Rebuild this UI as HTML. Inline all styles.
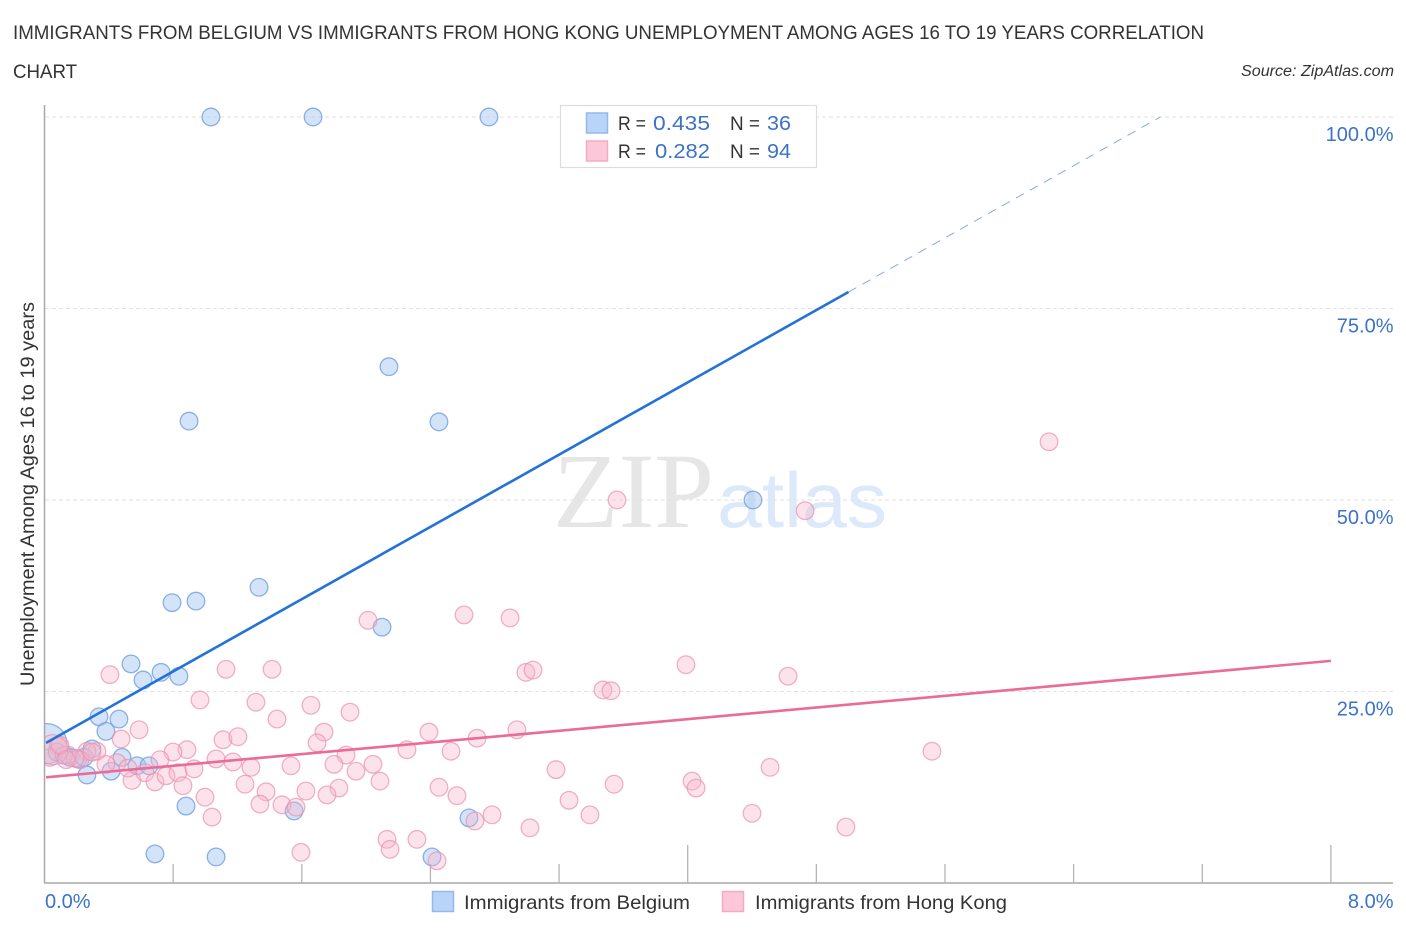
<!DOCTYPE html>
<html lang="en">
<head>
<meta charset="utf-8">
<title>Unemployment Among Ages 16 to 19 Years Correlation Chart</title>
<style>
html,body{margin:0;padding:0;background:#fff;width:1406px;height:930px;overflow:hidden}
svg{display:block}
text{font-family:"Liberation Sans",sans-serif}
</style>
</head>
<body>
<svg id="chart" xmlns="http://www.w3.org/2000/svg" width="1406" height="930" viewBox="0 0 1406 930">
  <text x="13" y="39" font-size="19.5" fill="#333" textLength="1191" lengthAdjust="spacingAndGlyphs">IMMIGRANTS FROM BELGIUM VS IMMIGRANTS FROM HONG KONG UNEMPLOYMENT AMONG AGES 16 TO 19 YEARS CORRELATION</text>
  <text x="13" y="78" font-size="19.5" fill="#333" textLength="64" lengthAdjust="spacingAndGlyphs">CHART</text>
  <text x="1241" y="76" font-size="15.5" font-style="italic" fill="#333" textLength="153" lengthAdjust="spacingAndGlyphs">Source: ZipAtlas.com</text>
  <text x="553" y="527" font-size="107" fill="#e6e6e6" style="font-family:'Liberation Serif',serif" textLength="161" lengthAdjust="spacingAndGlyphs">ZIP</text>
  <text x="717" y="527" font-size="78" fill="#dce9fb" textLength="170" lengthAdjust="spacingAndGlyphs">atlas</text>
  <g id="grid"></g>
  <g id="points"></g>
  <rect x="0" y="100" width="44.5" height="783" fill="#fff"/>
  <g id="trends"></g>
  <g id="axes"></g>
  <text transform="translate(34,686) rotate(-90)" x="0" y="0" font-size="19" fill="#333" textLength="384" lengthAdjust="spacingAndGlyphs">Unemployment Among Ages 16 to 19 years</text>
  <g>
    <rect x="560.5" y="105.5" width="256" height="62" fill="#fff" stroke="#ddd" stroke-width="1.2"/>
    <rect x="586.5" y="113" width="21" height="20" fill="#b9d4f9" stroke="#93b9ec" stroke-width="1.5"/>
    <rect x="586.5" y="141" width="21" height="20" fill="#fbc7d9" stroke="#f3abc3" stroke-width="1.5"/>
    <text x="618" y="130" font-size="19" fill="#333" textLength="28" lengthAdjust="spacingAndGlyphs">R =</text>
    <text x="653" y="130" font-size="20.5" fill="#3c72c8" textLength="57" lengthAdjust="spacingAndGlyphs">0.435</text>
    <text x="730" y="130" font-size="19" fill="#333" textLength="30" lengthAdjust="spacingAndGlyphs">N =</text>
    <text x="767" y="130" font-size="20.5" fill="#3c72c8" textLength="24" lengthAdjust="spacingAndGlyphs">36</text>
    <text x="618" y="158" font-size="19" fill="#333" textLength="28" lengthAdjust="spacingAndGlyphs">R =</text>
    <text x="655" y="158" font-size="20.5" fill="#3c72c8" textLength="55" lengthAdjust="spacingAndGlyphs">0.282</text>
    <text x="730" y="158" font-size="19" fill="#333" textLength="30" lengthAdjust="spacingAndGlyphs">N =</text>
    <text x="767" y="158" font-size="20.5" fill="#3c72c8" textLength="24" lengthAdjust="spacingAndGlyphs">94</text>
  </g>
  <g>
    <rect x="432.5" y="891.5" width="21" height="20" fill="#b9d4f9" stroke="#93b9ec" stroke-width="1.5"/>
    <text x="464" y="909" font-size="19.5" fill="#333" textLength="226" lengthAdjust="spacingAndGlyphs">Immigrants from Belgium</text>
    <rect x="722.5" y="891.5" width="21" height="20" fill="#fbc7d9" stroke="#f3abc3" stroke-width="1.5"/>
    <text x="755" y="909" font-size="19.5" fill="#333" textLength="252" lengthAdjust="spacingAndGlyphs">Immigrants from Hong Kong</text>
  </g>
</svg>
<script>
const xTickValues = [0.8, 1.6, 2.4, 3.2, 4, 4.8, 5.6, 6.4, 7.2, 8];
const yTickValues = [25, 50, 75, 100];
const yTickLabels = ["25.0%", "50.0%", "75.0%", "100.0%"];
const xEndLabels = ["0.0%", "8.0%"];

const belgiumX = [1.035,1.67,2.764,2.142,0.899,2.453,4.406,1.334,0.942,0.793,2.099,0.538,0.725,0.613,0.836,0.339,0.463,0.382,0.015,0.078,0.159,0.208,0.295,0.482,0.414,0.264,0.575,0.65,0.88,1.552,2.64,0.687,1.067,2.41,0.121,0.246];
const belgiumY = [100,100,100,67.4,60.3,60.2,50,38.6,36.8,36.6,33.4,28.6,27.5,26.5,27,21.7,21.4,19.8,18.2,17.1,16.4,16.2,17.5,16.4,14.6,14.1,15.3,15.3,10.05,9.4,8.5,3.8,3.4,3.4,16.7,16.4];
const belgiumWeight = [1,1,1,1,1,1,1,1,1,1,1,1,1,1,1,1,1,1,5,1,1,1,1,1,1,1,1,1,1,1,1,1,1,1,1,1];

const hongKongX = [6.247,3.56,4.73,2.609,2.895,2.012,0.407,1.129,1.415,2.994,3.038,3.989,4.624,3.473,3.523,0.967,1.315,1.657,1.9,1.446,0.588,0.476,1.11,1.203,1.738,1.695,2.391,2.938,2.69,2.254,2.528,5.519,0.886,0.799,1.875,0.718,1.067,1.172,1.284,1.533,1.8,2.043,1.937,4.512,3.181,0.544,0.625,0.687,0.756,0.83,0.93,0.861,1.247,1.378,1.34,1.626,1.831,1.757,2.086,2.453,2.565,1.477,1.564,0.998,1.042,2.783,3.262,3.392,3.542,4.027,4.052,4.4,4.984,3.019,2.677,2.13,2.149,2.316,1.595,2.441,0.326,0.264,0.221,0.146,0.084,0.034,0.053,0.19,0.096,0.451,0.382,0.519,0.295,0.134];
const hongKongY = [57.6,50,48.6,35,34.6,34.3,27.2,27.9,27.9,27.5,27.8,28.5,27,25.2,25.1,23.9,23.6,23.2,22.3,21.4,20,18.8,18.7,19.1,19.7,18.3,19.7,20,18.9,17.4,17.2,17.2,17.4,17.1,16.7,16.1,16.2,15.8,15.1,15.3,15.5,15.5,14.6,15.1,14.8,13.4,14.4,13.2,14,14.4,14.9,12.7,12.9,11.9,10.3,12,12.4,11.5,13.3,12.5,11.4,10.2,9.9,11.2,8.6,8.9,10.8,8.9,12.9,13.3,12.4,9.1,7.3,7.2,8.1,5.7,4.4,5.7,4,2.9,17.2,17.2,16.1,16.7,17.8,16.4,17.4,16.3,18,15.7,15.5,15,17.1,16.1];
const hongKongWeight = [1,1,1,1,1,1,1,1,1,1,1,1,1,1,1,1,1,1,1,1,1,1,1,1,1,1,1,1,1,1,1,1,1,1,1,1,1,1,1,1,1,1,1,1,1,1,1,1,1,1,1,1,1,1,1,1,1,1,1,1,1,1,1,1,1,1,1,1,1,1,1,1,1,1,1,1,1,1,1,1,1,1,1,1,1,1,3,1,1,1,1,1,1,1];

const belgiumTrendX = [0.01, 5];
const belgiumTrendY = [18.3, 77.15];
const belgiumForecastX = [5, 6.94];
const belgiumForecastY = [77.15, 100];
const hongKongTrendX = [0.01, 8];
const hongKongTrendY = [13.8, 29];

const NS = "http://www.w3.org/2000/svg";
const xScale = v => 44.5 + v * 160.8;
const yScale = v => 883 - v * 7.66;
const radiusFor = w => (w >= 5 ? 20 : w >= 3 ? 15 : 8.8);

function make(tag, attrs, parent) {
  const el = document.createElementNS(NS, tag);
  for (const k in attrs) el.setAttribute(k, attrs[k]);
  parent.appendChild(el);
  return el;
}

const grid = document.getElementById("grid");
const pointsLayer = document.getElementById("points");
const trends = document.getElementById("trends");
const axes = document.getElementById("axes");

yTickValues.forEach((v, i) => {
  const line = make("line", {x1: 45, x2: 1393, y1: yScale(v), y2: yScale(v), stroke: "#e2e2e2", "stroke-width": 1, "stroke-dasharray": "4 3"}, grid);
  
  
  const label = make("text", {x: 1393.5, y: yScale(v) + 24, "text-anchor": "end", "font-size": 20, fill: "#3c72c8"}, axes);
  
  
  label.textContent = yTickLabels[i];
});

belgiumX.forEach((x, i) => {
  const c = make("circle", {cx: xScale(x), cy: yScale(belgiumY[i]), r: radiusFor(belgiumWeight[i]), fill: "#a9c9f2", "fill-opacity": 0.5, stroke: "#6f9fe0", "stroke-opacity": 0.8, "stroke-width": 1.3}, pointsLayer);
  
  
});

hongKongX.forEach((x, i) => {
  const c = make("circle", {cx: xScale(x), cy: yScale(hongKongY[i]), r: radiusFor(hongKongWeight[i]), fill: "#f8b6cb", "fill-opacity": 0.38, stroke: "#ea93b0", "stroke-opacity": 0.72, "stroke-width": 1.3}, pointsLayer);
  
  
});

function polyPoints(xs, ys) {
  return xs.map((x, i) => xScale(x) + "," + yScale(ys[i])).join(" ");
}

const belgiumTrend = make("polyline", {points: polyPoints(belgiumTrendX, belgiumTrendY), fill: "none", stroke: "#2272d9", "stroke-width": 2.6}, trends);



const belgiumForecast = make("polyline", {points: polyPoints(belgiumForecastX, belgiumForecastY), fill: "none", stroke: "#8aa8e0", "stroke-width": 1, "stroke-dasharray": "9 7"}, trends);



const hongKongTrend = make("polyline", {points: polyPoints(hongKongTrendX, hongKongTrendY), fill: "none", stroke: "#ea6a98", "stroke-width": 2.6}, trends);



const yAxisLine = make("line", {x1: 44.5, x2: 44.5, y1: 105, y2: 883, stroke: "#a8a8a8", "stroke-width": 1.5}, axes);



const xAxisLine = make("line", {x1: 44, x2: 1393, y1: 883, y2: 883, stroke: "#b4b4b4", "stroke-width": 1.8}, axes);



xTickValues.forEach(v => {
  const tall = v === 4 || v === 8;
  const tick = make("line", {x1: xScale(v), x2: xScale(v), y1: tall ? 845 : 864, y2: 883, stroke: "#b4b4b4", "stroke-width": 1.3}, axes);
  
  
});

const xStart = make("text", {x: 45, y: 908, "font-size": 20, fill: "#3c72c8"}, axes);


xStart.textContent = xEndLabels[0];

const xEnd = make("text", {x: 1393.5, y: 908, "text-anchor": "end", "font-size": 20, fill: "#3c72c8"}, axes);


xEnd.textContent = xEndLabels[1];
</script>
</body>
</html>
